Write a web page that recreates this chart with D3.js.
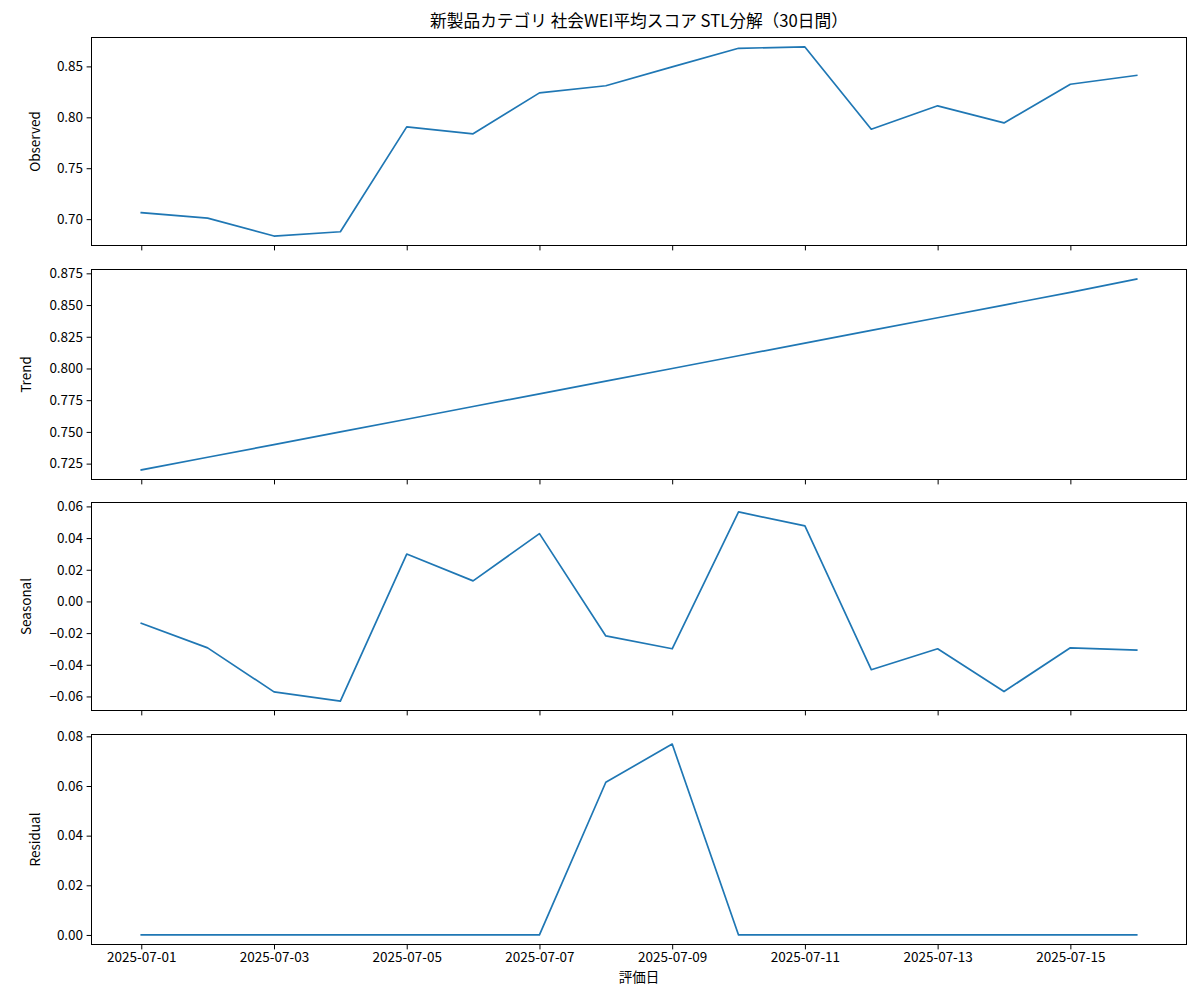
<!DOCTYPE html>
<html>
<head>
<meta charset="utf-8">
<script src="https://cdn.jsdelivr.net/npm/d3@7"></script>
<style>
  html, body { margin: 0; padding: 0; background: #fff; }
  svg { display: block; }
  text { font-family: "Noto Sans CJK JP", "Noto Sans", sans-serif; fill: #000; }
</style>
</head>
<body>
<svg id="chart" width="1200" height="1000"></svg>
<script>
// ---- data ----
const dates = ["2025-07-01","2025-07-02","2025-07-03","2025-07-04","2025-07-05","2025-07-06","2025-07-07","2025-07-08",
               "2025-07-09","2025-07-10","2025-07-11","2025-07-12","2025-07-13","2025-07-14","2025-07-15","2025-07-16"];
const observed = [0.7064,0.7010,0.6834,0.6876,0.7906,0.7838,0.8240,0.8310,0.8495,0.8678,0.8691,0.7883,0.8113,0.7945,0.8325,0.8412];
const trend    = [0.7200,0.7300,0.7400,0.7500,0.7600,0.7700,0.7800,0.7900,0.8000,0.8100,0.8200,0.8300,0.8400,0.8500,0.8600,0.8705];
const seasonal = [-0.0138,-0.0293,-0.0571,-0.0629,0.0299,0.0130,0.0428,-0.0218,-0.0299,0.0565,0.0477,-0.0431,-0.0299,-0.0569,-0.0293,-0.0307];
const residual = [0,0,0,0,0,0,0,0.0615,0.0769,0,0,0,0,0,0,0];

const xTickLabels = ["2025-07-01","2025-07-03","2025-07-05","2025-07-07","2025-07-09","2025-07-11","2025-07-13","2025-07-15"];
const observedTicks = [0.70,0.75,0.80,0.85];
const trendTicks = [0.725,0.750,0.775,0.800,0.825,0.850,0.875];
const seasonalTicks = [-0.06,-0.04,-0.02,0.00,0.02,0.04,0.06];
const residualTicks = [0.00,0.02,0.04,0.06,0.08];

const title = "新製品カテゴリ 社会WEI平均スコア STL分解（30日間）";
const xLabel = "評価日";

// ---- layout ----
const svg = d3.select("#chart");
const left = 91.5, right = 1186.5;
const panels = [
  {name: "Observed", values: observed, ticks: observedTicks, fmt: ".2f", top: 37.5,  bottom: 245.5, labelX: 34},
  {name: "Trend",    values: trend,    ticks: trendTicks,    fmt: ".3f", top: 269.5, bottom: 479.5, labelX: 25},
  {name: "Seasonal", values: seasonal, ticks: seasonalTicks, fmt: ".2f", top: 502.5, bottom: 710.5, labelX: 25},
  {name: "Residual", values: residual, ticks: residualTicks, fmt: ".2f", top: 734.5, bottom: 944.5, labelX: 34}
];

const parse = d3.utcParse("%Y-%m-%d");
const xDates = dates.map(parse);
const xExt = d3.extent(xDates);
const xPad = (xExt[1] - xExt[0]) * 0.05;
const x = d3.scaleUtc()
  .domain([new Date(+xExt[0] - xPad), new Date(+xExt[1] + xPad)])
  .range([left, right]);
const xTicks = xTickLabels.map(parse);

svg.append("text")
  .attr("x", (left + right) / 2).attr("y", 27)
  .attr("text-anchor", "middle")
  .attr("font-size", "16.7px")
  .text(title);

panels.forEach((p, i) => {
  const ext = d3.extent(p.values);
  const pad = (ext[1] - ext[0]) * 0.05;
  const y = d3.scaleLinear().domain([ext[0] - pad, ext[1] + pad]).range([p.bottom, p.top]);
  const g = svg.append("g");

  const fmt = d3.format(p.fmt);
  const yAxis = d3.axisLeft(y).tickValues(p.ticks).tickSize(4.9).tickPadding(3.5)
    .tickFormat(d => fmt(d).replace("-", "\u2212"));
  const ya = g.append("g").attr("transform", `translate(${left},0)`).call(yAxis);
  ya.select(".domain").remove();

  const xAxis = d3.axisBottom(x).tickValues(xTicks).tickSize(4.9).tickPadding(3.5)
    .tickFormat((d, k) => i === panels.length - 1 ? xTickLabels[k] : "");
  const xa = g.append("g").attr("transform", `translate(0,${p.bottom})`).call(xAxis);
  xa.select(".domain").remove();

  [ya, xa].forEach(a => {
    a.selectAll(".tick line").attr("stroke", "#000").attr("stroke-width", 1);
    a.selectAll(".tick text").attr("font-size", "13.5px").attr("fill", "#000")
      .style("font-family", '"Noto Sans CJK JP", "Noto Sans", sans-serif');
  });

  g.append("path")
    .datum(p.values)
    .attr("fill", "none")
    .attr("stroke", "#1f77b4")
    .attr("stroke-width", 1.7)
    .attr("stroke-linejoin", "round")
    .attr("stroke-linecap", "square")
    .attr("d", d3.line().x((d, k) => x(xDates[k])).y(d => y(d)));

  g.append("rect")
    .attr("x", left).attr("y", p.top)
    .attr("width", right - left).attr("height", p.bottom - p.top)
    .attr("fill", "none").attr("stroke", "#000").attr("stroke-width", 1);

  const cy = (p.top + p.bottom) / 2;
  g.append("text")
    .attr("transform", `translate(${p.labelX},${cy}) rotate(-90)`)
    .attr("text-anchor", "middle")
    .attr("dominant-baseline", "central")
    .attr("font-size", "13.5px")
    .text(p.name);
});

svg.append("text")
  .attr("x", (left + right) / 2).attr("y", 976)
  .attr("text-anchor", "middle")
  .attr("dominant-baseline", "central")
  .attr("font-size", "13.5px")
  .text(xLabel);
</script>
</body>
</html>
